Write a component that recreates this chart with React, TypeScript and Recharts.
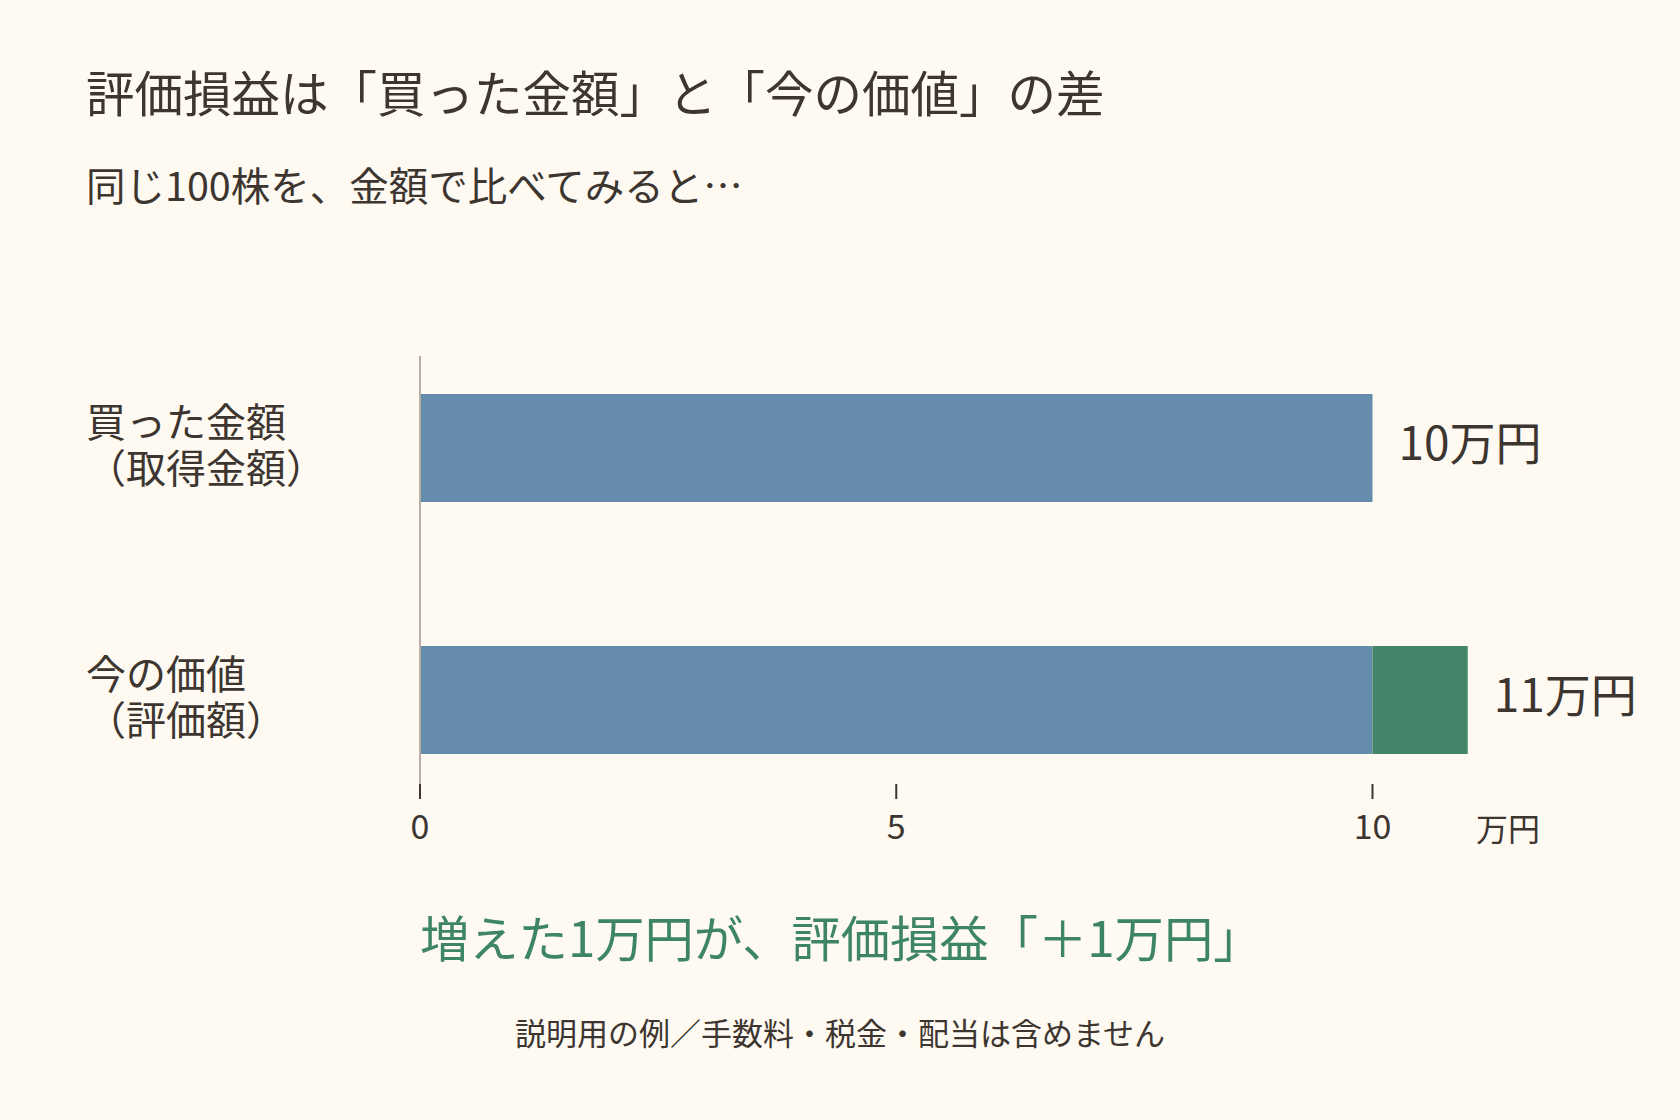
import { Bar, BarChart, LabelList, XAxis, YAxis } from "recharts";

const FONT = '"Noto Sans CJK JP", "Noto Sans", sans-serif';
const INK = "#3d3530";
const BLUE = "#668cad";
const GREEN = "#44856a";
const BG = "#fefaf2";

const categories = ["bought", "now"];
const categoryLines = [
  ["買った金額", "（取得金額）"],
  ["今の価値", "（評価額）"],
];
const baseValues = [10, 10];
const gainValues = [0, 1];
const xTicks = [0, 5, 10];
const xDomain = [0, 12];

const data = categories.map((key, i) => ({
  key,
  base: baseValues[i],
  gain: gainValues[i],
  total: baseValues[i] + gainValues[i],
}));

function CategoryTick(props: any) {
  const { y, payload } = props;
  const lines = categoryLines[payload.index] ?? [String(payload.value)];
  return (
    <g>
      <text x={86} y={y - 11} fill={INK} fontSize={40} fontFamily={FONT}>
        {lines[0]}
      </text>
      <text x={86} y={y + 35} fill={INK} fontSize={40} fontFamily={FONT}>
        {lines[1]}
      </text>
    </g>
  );
}

function ValueTick(props: any) {
  const { x, y, payload } = props;
  return (
    <text x={x} y={y + 38} textAnchor="middle" fill={INK} fontSize={34} fontFamily={FONT}>
      {payload.value}
    </text>
  );
}

// label sits after the stacked total; the base bar's px-per-unit gives the end
function TotalLabel(props: any) {
  const x = Number(props.x);
  const y = Number(props.y);
  const width = Number(props.width);
  const height = Number(props.height);
  const row = data[props.index];
  const endX = x + (width * row.total) / row.base;
  return (
    <text x={endX + 26} y={y + height / 2 + 12} fill={INK} fontSize={46} fontFamily={FONT}>
      {`${row.total}万円`}
    </text>
  );
}

export default function App() {
  return (
    <div
      style={{
        position: "absolute",
        left: 0,
        top: 0,
        width: 1680,
        height: 1120,
        background: BG,
        fontFamily: FONT,
        color: INK,
        overflow: "hidden",
      }}
    >
      <div style={{ position: "absolute", left: 86, top: 67, fontSize: 48.5, lineHeight: 1, whiteSpace: "nowrap" }}>
        評価損益は「買った金額」と「今の価値」の差
      </div>
      <div style={{ position: "absolute", left: 86, top: 164, fontSize: 39.5, lineHeight: 1, whiteSpace: "nowrap" }}>
        同じ100株を、金額で比べてみると…
      </div>

      <div style={{ position: "absolute", left: 0, top: 0 }}>
        <BarChart
          width={1680}
          height={1120}
          data={data}
          layout="vertical"
          margin={{ top: 356, right: 117, bottom: 276, left: 0 }}
          barSize={108}
        >
          <XAxis
            type="number"
            domain={xDomain}
            ticks={xTicks}
            height={60}
            axisLine={false}
            tickLine={{ stroke: INK, strokeWidth: 2 }}
            tickSize={15}
            tick={<ValueTick />}
          />
          <YAxis
            type="category"
            dataKey="key"
            width={420}
            padding={{ top: -34, bottom: -42 }}
            axisLine={{ stroke: "#b8b0a6", strokeWidth: 2 }}
            tickLine={false}
            tick={<CategoryTick />}
          />
          <Bar dataKey="base" stackId="v" fill={BLUE} isAnimationActive={false}>
            <LabelList dataKey="total" content={<TotalLabel />} />
          </Bar>
          <Bar dataKey="gain" stackId="v" fill={GREEN} isAnimationActive={false} />
        </BarChart>
      </div>

      <div style={{ position: "absolute", left: 1476, top: 811, fontSize: 32, lineHeight: 1, whiteSpace: "nowrap" }}>
        万円
      </div>
      <div
        style={{
          position: "absolute",
          left: 420,
          top: 911,
          fontSize: 49.3,
          lineHeight: 1,
          color: "#3e8566",
          whiteSpace: "nowrap",
        }}
      >
        増えた1万円が、評価損益「＋1万円」
      </div>
      <div
        style={{
          position: "absolute",
          left: 0,
          width: 1680,
          top: 1016,
          fontSize: 31,
          lineHeight: 1,
          textAlign: "center",
          whiteSpace: "nowrap",
        }}
      >
        説明用の例／手数料・税金・配当は含めません
      </div>
    </div>
  );
}
